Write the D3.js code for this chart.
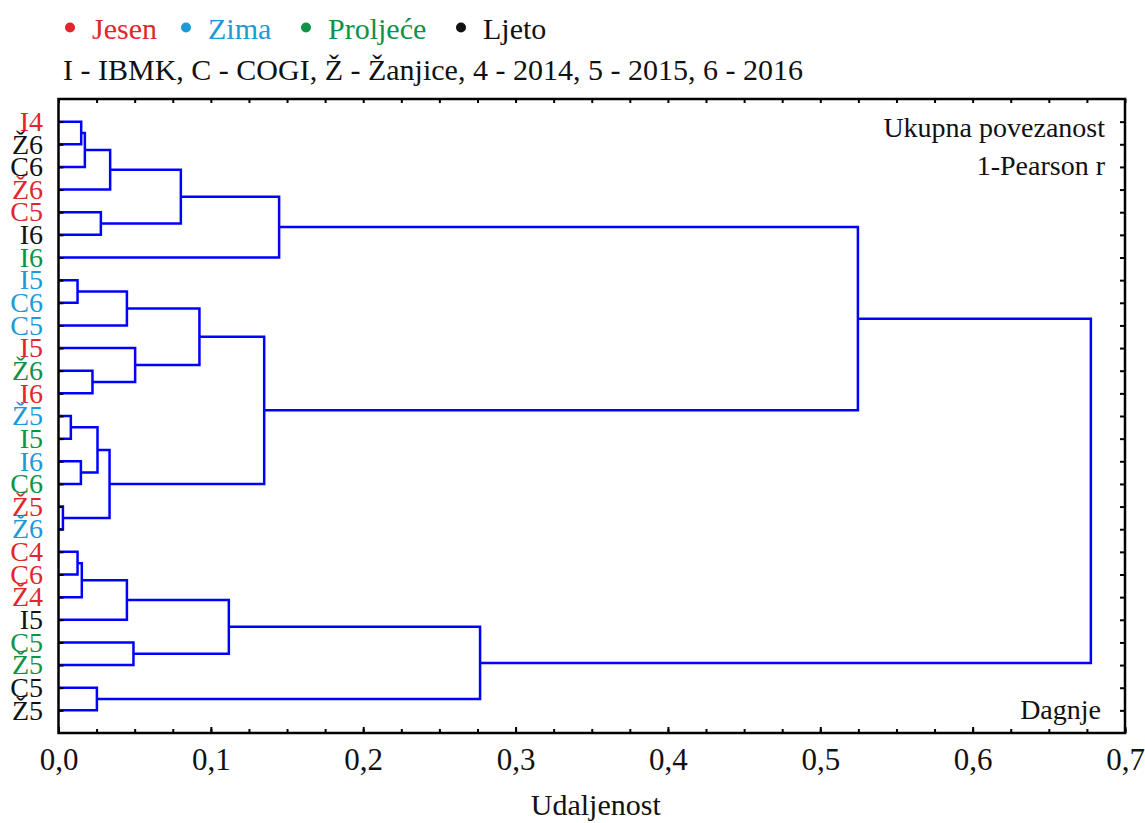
<!DOCTYPE html>
<html>
<head>
<meta charset="utf-8">
<script src="https://cdn.jsdelivr.net/npm/d3@7"></script>
<style>
  html, body { margin: 0; padding: 0; background: #fff; }
  svg { display: block; font-family: "Liberation Serif", "Times New Roman", serif; }
</style>
</head>
<body>
<svg id="chart" width="1145" height="823"></svg>
<script>
// ---------- data ----------
const seasons = ["Jesen", "Zima", "Proljeće", "Ljeto"];
const seasonColors = ["#e2262b", "#1b9ad8", "#0d9346", "#111111"];

const leafLabels = ["I4","Ž6","C6","Ž6","C5","I6","I6",
                    "I5","C6","C5","I5","Ž6","I6","Ž5","I5","I6","C6","Ž5","Ž6",
                    "C4","C6","Ž4","I5","C5","Ž5","C5","Ž5"];
// season index per leaf (0 Jesen, 1 Zima, 2 Proljeće, 3 Ljeto)
const leafSeasons = [0,3,3,0,0,3,2,
                     1,1,1,0,2,0,1,2,1,2,0,1,
                     0,0,0,3,2,2,3,3];

// merges (leaf ids 0..26 or merge names), with their linkage distance
const mergeNames  = ["a","b","c","d","e","f","g","h","i","j","k","l","m","n","o","p","q","r","s","t","u","v","w","x","y","z"];
const mergeLeft   = [0,"a","b",4,"c","e", 7,"g",11,10,"h",13,15,"l",17,"n","k","f", 19,"s","t",23,"u",25,"w","r"];
const mergeRight  = [1, 2, 3, 5,"d", 6,   8, 9, 12,"i","j",14,16,"m",18,"o","p","q", 20,21,22,24,"v",26,"x","y"];
const mergeHeight = [0.0149,0.0173,0.0339,0.0278,0.0803,0.1448,
                     0.0125,0.0449,0.0223,0.0503,0.0925,0.0081,0.0147,0.0256,0.0029,0.0335,0.135,0.5247,
                     0.0125,0.0153,0.0449,0.0492,0.1118,0.0252,0.2767,0.6776];

const xTicks = [0, 0.1, 0.2, 0.3, 0.4, 0.5, 0.6, 0.7];
const xMinorTicks = d3.range(0, 0.7001, 0.025);

const legendLine2 = "I - IBMK, C - COGI, Ž - Žanjice, 4 - 2014, 5 - 2015, 6 - 2016";
const xTitle = "Udaljenost";
const noteTop = ["Ukupna povezanost", "1-Pearson r"];
const noteBottom = "Dagnje";
</script>
<script>
const svg = d3.select("#chart");
const plot = { left: 58.5, right: 1125, top: 99, bottom: 733 };

const x = d3.scaleLinear().domain([0, 0.7]).range([plot.left, plot.right]);
const y = d3.scaleLinear().domain([0, leafLabels.length + 1]).range([plot.top, plot.bottom]);

const locale = d3.formatLocale({ decimal: ",", thousands: ".", grouping: [3], currency: ["", ""] });
const fmt = locale.format(".1f");

// ---------- dendrogram geometry ----------
const nodeX = new Map(), nodeY = new Map();
leafLabels.forEach((d, i) => { nodeX.set(i, 0); nodeY.set(i, y(i + 1)); });
mergeHeight.forEach((h, k) => {
  const a = mergeLeft[k], b = mergeRight[k];
  nodeX.set(mergeNames[k], h);
  nodeY.set(mergeNames[k], (nodeY.get(a) + nodeY.get(b)) / 2);
});

const linkColor = "#0000ff";
const g = svg.append("g");
mergeHeight.forEach((h, k) => {
  const a = mergeLeft[k], b = mergeRight[k];
  const path = d3.path();
  path.moveTo(x(nodeX.get(a)), nodeY.get(a));
  path.lineTo(x(h), nodeY.get(a));
  path.lineTo(x(h), nodeY.get(b));
  path.lineTo(x(nodeX.get(b)), nodeY.get(b));
  g.append("path").attr("d", path.toString())
    .attr("fill", "none").attr("stroke", linkColor).attr("stroke-width", 2.5)
    .attr("stroke-linejoin", "miter");
});

// ---------- frame & axes ----------
const axisColor = "#000";
const leafPos = d3.range(1, leafLabels.length + 1);

const bottom = svg.append("g").attr("transform", `translate(0,${plot.bottom})`)
  .call(d3.axisBottom(x).tickValues(xTicks).tickFormat(fmt).tickSizeInner(-6).tickSizeOuter(0).tickPadding(15));
bottom.selectAll("text").attr("font-size", 31).attr("fill", "#111").style("font-family", "Liberation Serif");
svg.append("g").attr("transform", `translate(0,${plot.bottom})`)
  .call(d3.axisBottom(x).tickValues(xMinorTicks).tickFormat("").tickSizeInner(-4).tickSizeOuter(0));
svg.append("g").attr("transform", `translate(0,${plot.top})`)
  .call(d3.axisTop(x).tickValues(xMinorTicks).tickFormat("").tickSizeInner(-4).tickSizeOuter(0));
svg.append("g").attr("transform", `translate(${plot.left},0)`)
  .call(d3.axisLeft(y).tickValues(leafPos).tickFormat("").tickSizeInner(-5).tickSizeOuter(0));
svg.append("g").attr("transform", `translate(${plot.right},0)`)
  .call(d3.axisRight(y).tickValues(leafPos).tickFormat("").tickSizeInner(-5).tickSizeOuter(0));

svg.selectAll(".domain").remove();
svg.selectAll(".tick line").attr("stroke", axisColor).attr("stroke-width", 2);

svg.append("rect")
  .attr("x", plot.left).attr("y", plot.top)
  .attr("width", plot.right - plot.left).attr("height", plot.bottom - plot.top)
  .attr("fill", "none").attr("stroke", axisColor).attr("stroke-width", 2.5);

// leaf labels
svg.append("g").selectAll("text").data(leafLabels).join("text")
  .attr("x", 43).attr("y", (d, i) => y(i + 1))
  .attr("dy", "0.33em")
  .attr("text-anchor", "end")
  .attr("font-size", 28)
  .attr("fill", (d, i) => seasonColors[leafSeasons[i]])
  .text(d => d);

// axis title
svg.append("text").attr("x", (plot.left + plot.right) / 2 + 4).attr("y", 815)
  .attr("text-anchor", "middle").attr("font-size", 30).attr("fill", "#111").text(xTitle);

// notes in plot
svg.append("g").selectAll("text").data(noteTop).join("text")
  .attr("x", 1105).attr("y", (d, i) => 137 + i * 38)
  .attr("text-anchor", "end").attr("font-size", 28).attr("fill", "#111").text(d => d);
svg.append("text").attr("x", 1101).attr("y", 719)
  .attr("text-anchor", "end").attr("font-size", 28).attr("fill", "#111").text(noteBottom);

// legend
const legendX = [70, 186, 306, 461];
const lg = svg.append("g");
seasons.forEach((s, i) => {
  lg.append("circle").attr("cx", legendX[i]).attr("cy", 27.5).attr("r", 5).attr("fill", seasonColors[i]);
  lg.append("text").attr("x", legendX[i] + 22).attr("y", 39).attr("font-size", 30)
    .attr("fill", seasonColors[i]).text(s);
});
svg.append("text").attr("x", 63).attr("y", 80).attr("font-size", 30).attr("fill", "#111").text(legendLine2);
</script>
</body>
</html>
